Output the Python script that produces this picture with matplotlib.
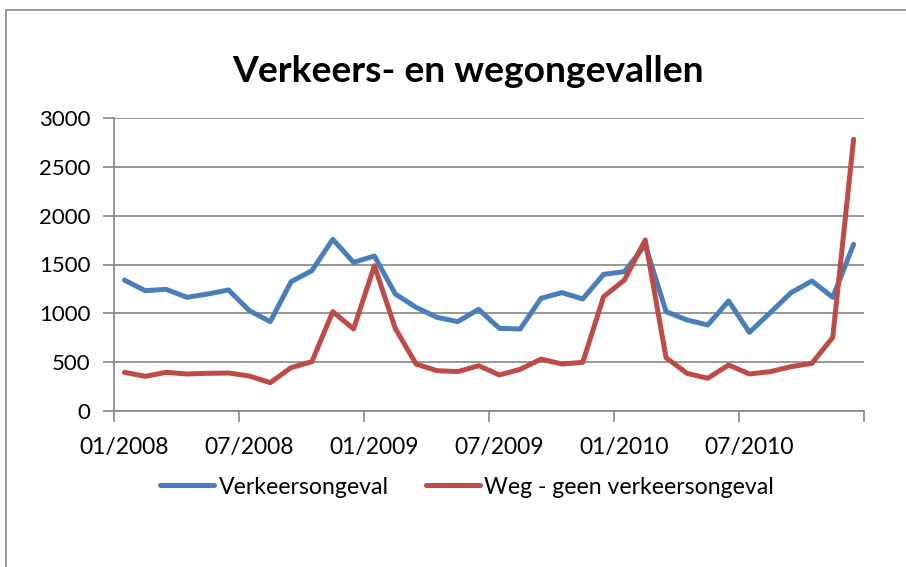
import matplotlib
matplotlib.use("Agg")
import matplotlib.pyplot as plt
from matplotlib.patches import Rectangle
import numpy as np

plt.rcParams['font.family'] = ['Lato', 'DejaVu Sans']

# monthly values, 01/2008 .. 12/2010
verkeer = [1340, 1232, 1246, 1164, 1198, 1239, 1027, 915, 1324, 1437, 1758, 1522,
           1587, 1198, 1061, 959, 915, 1041, 846, 840, 1154, 1212, 1147, 1399,
           1427, 1700, 1017, 932, 881, 1126, 806, 1007, 1212, 1331, 1164, 1706]
weg = [396, 355, 396, 379, 386, 389, 358, 290, 444, 505, 1017, 840,
       1488, 846, 481, 413, 403, 464, 369, 427, 532, 481, 498, 1171,
       1341, 1751, 546, 386, 335, 471, 379, 403, 454, 488, 754, 2782]
tick_labels = ["01/2008", "07/2008", "01/2009", "07/2009", "01/2010", "07/2010"]
yticks = [0, 500, 1000, 1500, 2000, 2500, 3000]

blue = '#4A7EBB'
red = '#BE4B48'
grey = '#868686'

W, H = 906, 567
fig = plt.figure(figsize=(W / 100, H / 100), dpi=100)
ax = fig.add_axes([114 / W, 1 - 411 / H, 750 / W, 293 / H])

# outer chart border (cut off at right and bottom)
fig.patches.append(Rectangle((6 / W, -0.1), 1.2, 1 - 10 / H + 0.1,
                             transform=fig.transFigure, fill=False,
                             edgecolor=grey, linewidth=1.2))

x = np.arange(len(verkeer)) + 0.5
ax.plot(x, verkeer, color=blue, linewidth=3.6, label="Verkeersongeval",
        solid_joinstyle='round', solid_capstyle='round')
ax.plot(x, weg, color=red, linewidth=3.6, label="Weg - geen verkeersongeval",
        solid_joinstyle='round', solid_capstyle='round')

ax.set_xlim(0, 36)
ax.set_ylim(0, 3000)
ax.set_yticks(yticks)
ax.set_yticklabels([str(v) for v in yticks])
ax.set_xticks(np.arange(0, 37, 6))
ax.set_xticklabels([])
ax.set_xticks(np.arange(0, 31, 6) + 0.5, minor=True)
ax.set_xticklabels(tick_labels, minor=True)
ax.tick_params(axis='x', which='minor', length=0, pad=19, labelsize=16.5)
ax.tick_params(axis='x', which='major', length=8, width=1.2, color=grey)
ax.tick_params(axis='y', length=8, width=1.2, color=grey, pad=9, labelsize=16)

ax.grid(axis='y', color=grey, linewidth=1.2)
ax.set_axisbelow(True)
for side in ['top', 'right']:
    ax.spines[side].set_visible(False)
for side in ['left', 'bottom']:
    ax.spines[side].set_color(grey)
    ax.spines[side].set_linewidth(1.2)

fig.text(468 / W, 1 - 72 / H, "Verkeers- en wegongevallen", ha='center', va='center',
         fontsize=26.8, fontweight='bold')

fig.legend(loc='center', bbox_to_anchor=(467 / W, 1 - 487 / H), ncol=2, frameon=False,
           fontsize=16.6, handlelength=2.35, handletextpad=0.2, columnspacing=1.6)

fig.savefig("out.png", dpi=100)
